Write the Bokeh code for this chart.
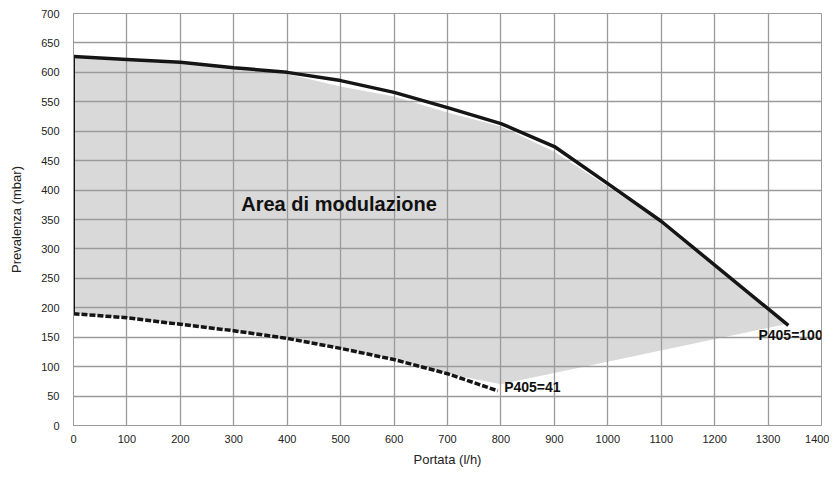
from bokeh.plotting import figure
from bokeh.models import Range1d, FixedTicker, Label
from bokeh.embed import file_html
from bokeh.resources import INLINE

# ---- data ----
x_ticks = [0, 100, 200, 300, 400, 500, 600, 700, 800, 900, 1000, 1100, 1200, 1300, 1400]
y_ticks = [0, 50, 100, 150, 200, 250, 300, 350, 400, 450, 500, 550, 600, 650, 700]

# P405=100 curve (max)
max_x = [0, 100, 200, 300, 400, 500, 600, 700, 800, 900, 1000, 1100, 1338]
max_y = [627, 622, 617, 608, 600, 586, 566, 540, 513, 474, 411, 347, 170]

# P405=41 curve (min)
min_x = [0, 100, 200, 300, 400, 500, 600, 700, 794]
min_y = [190, 183, 172, 161, 148, 131, 112, 88, 59]

# grey modulation area boundaries
area_top_x = [0, 100, 200, 300, 400, 500, 600, 700, 800, 900, 1000, 1100, 1332]
area_top_y = [627, 620, 614, 606, 597, 576, 559, 532, 508, 465, 406, 345, 172]
area_bot_x = [0, 100, 200, 300, 400, 500, 600, 700, 800, 1332]
area_bot_y = [190, 183, 172, 161, 148, 131, 112, 88, 70, 172]

FONT = "Liberation Sans"
GRID = "#9a9a9a"

p = figure(width=829, height=469, output_backend="svg", toolbar_location=None,
           x_range=Range1d(0, 1400), y_range=Range1d(0, 700),
           min_border_left=73, min_border_right=8, min_border_top=13, min_border_bottom=40)
p.background_fill_color = "white"
p.border_fill_color = "white"
p.outline_line_color = GRID

# area
poly_x = area_top_x + area_bot_x[::-1]
poly_y = area_top_y + area_bot_y[::-1]
p.patch(poly_x, poly_y, fill_color="#d9d9d9", line_color=None, level="underlay")

# axes
p.xaxis.ticker = FixedTicker(ticks=x_ticks)
p.yaxis.ticker = FixedTicker(ticks=y_ticks)
for ax in (p.xaxis[0], p.yaxis[0]):
    ax.major_tick_line_color = None
    ax.minor_tick_line_color = None
    ax.axis_line_color = GRID
    ax.major_label_text_font = FONT
    ax.major_label_text_font_size = "11px"
    ax.major_label_text_color = "#222222"
    ax.axis_label_text_font = FONT
    ax.axis_label_text_font_size = "13px"
    ax.axis_label_text_font_style = "normal"
    ax.axis_label_text_color = "#222222"
p.xaxis.axis_label = "Portata (l/h)"
p.yaxis.axis_label = "Prevalenza (mbar)"
p.xaxis.major_label_standoff = 3
p.yaxis.major_label_standoff = 8
p.xaxis.axis_label_standoff = 6
p.yaxis.axis_label_standoff = 14

p.xgrid.grid_line_color = GRID
p.ygrid.grid_line_color = GRID
p.xgrid.grid_line_width = 1.3
p.ygrid.grid_line_width = 1.3
p.xgrid.level = "underlay"
p.ygrid.level = "underlay"

# lines
p.line(max_x, max_y, line_color="#151515", line_width=3.5)
p.line([max_x[0], min_x[0]], [max_y[0], min_y[0]], line_color="#151515", line_width=3)
p.line(min_x, min_y, line_color="#151515", line_width=3.5, line_dash="6 2")

# labels
p.add_layout(Label(x=314, y=377, text="Area di modulazione", text_font=FONT,
                   text_font_size="20px", text_font_style="bold", text_color="#111111",
                   text_baseline="middle", text_align="left"))
p.add_layout(Label(x=806, y=65, text="P405=41", text_font=FONT,
                   text_font_size="14px", text_font_style="bold", text_color="#111111",
                   text_baseline="middle", text_align="left"))
p.add_layout(Label(x=1282, y=153, text="P405=100", text_font=FONT,
                   text_font_size="14px", text_font_style="bold", text_color="#111111",
                   text_baseline="middle", text_align="left"))

open("out.html", "w").write(file_html(p, INLINE))
